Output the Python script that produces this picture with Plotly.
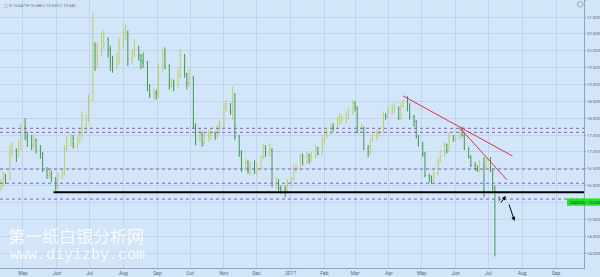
import pandas as pd
import plotly.graph_objects as go

# ---------------- data (XAGUSD, one bar per two business days) ----------------
start_date = "2016-04-11"
first_open = 15.95
last_open = 15.647

close_px = [
    16.05, 16.25, 16.20, 16.95, 17.05, 16.90, 17.10, 17.75,                     # Apr 2016
    17.45, 17.40, 17.20, 17.35, 17.05, 16.95, 16.45, 16.30, 16.35, 16.20, 16.00,  # May
    16.30, 16.35, 17.10, 17.30, 17.40, 17.25, 17.30, 17.55, 17.80, 17.95, 18.55,  # Jun
    20.15, 19.85, 19.95, 20.30, 20.35, 20.05, 19.65, 19.60, 19.70, 20.15,         # Jul
    20.45, 20.55, 19.75, 19.95, 20.10, 19.85, 19.70, 19.65, 18.95, 18.70, 18.75, 18.70,  # Aug
    19.45, 19.90, 19.55, 19.00, 19.05, 18.95, 19.25, 19.85, 19.30, 19.05, 19.20,  # Sep
    17.75, 17.40, 17.55, 17.25, 17.40, 17.50, 17.55, 17.45, 17.70, 17.75,         # Oct
    18.30, 18.35, 18.20, 18.50, 17.45, 16.95, 16.55, 16.70, 16.45, 16.55, 16.45,  # Nov
    16.50, 16.85, 17.10, 16.95, 17.05, 16.05, 16.10, 15.95, 15.90, 15.85, 16.10,  # Dec
    16.20, 16.45, 16.50, 16.85, 16.70, 16.90, 16.75, 16.85, 17.10, 16.95, 17.30,  # Jan 2017
    17.55, 17.55, 17.75, 17.70, 17.95, 18.00, 18.00, 18.05, 18.15, 18.45,         # Feb
    18.30, 17.65, 17.70, 17.10, 17.00, 17.35, 17.40, 17.55, 17.60, 18.10, 18.05, 18.25,  # Mar
    18.30, 18.30, 18.00, 18.35, 18.50, 18.40, 18.05, 17.90, 17.45, 17.25,         # Apr
    16.95, 16.30, 16.25, 16.15, 16.35, 16.75, 16.90, 17.20, 17.05, 17.45, 17.35,  # May
    17.40, 17.65, 17.50, 17.10, 16.85, 16.60, 16.50, 16.45, 16.65, 16.55, 16.75,  # Jun
    16.45, 15.95, 15.40, 15.545,                                                   # Jul
]
high_px = [
    16.20, 16.40, 16.35, 17.20, 17.30, 17.10, 17.35, 17.85,
    18.00, 17.60, 17.50, 17.55, 17.40, 17.20, 17.00, 16.55, 16.50, 16.45, 16.25,
    16.40, 16.50, 17.20, 17.45, 17.55, 17.50, 17.45, 17.65, 18.20, 18.10, 18.70,
    21.12, 20.25, 20.25, 20.55, 20.60, 20.40, 20.15, 19.85, 19.95, 20.40,
    20.65, 20.80, 20.60, 20.05, 20.35, 20.15, 19.90, 19.95, 19.70, 19.00, 18.90, 18.85,
    19.60, 20.05, 20.10, 19.60, 19.20, 19.15, 19.45, 20.05, 19.90, 19.35, 19.45,
    19.25, 17.85, 17.70, 17.60, 17.60, 17.65, 17.70, 17.60, 17.80, 17.95,
    18.45, 18.55, 18.45, 18.95, 18.75, 17.50, 17.05, 16.80, 16.75, 16.70, 16.75,
    16.70, 16.90, 17.25, 17.20, 17.25, 17.10, 16.25, 16.20, 16.00, 16.00, 16.20,
    16.25, 16.60, 16.65, 16.95, 16.95, 17.00, 16.95, 17.00, 17.20, 17.15, 17.45,
    17.65, 17.70, 17.85, 17.85, 18.05, 18.15, 18.10, 18.20, 18.30, 18.55,
    18.50, 18.35, 17.85, 17.75, 17.20, 17.40, 17.55, 17.65, 17.70, 18.20, 18.15, 18.30,
    18.40, 18.45, 18.35, 18.45, 18.55, 18.65, 18.45, 18.10, 17.95, 17.50,
    17.30, 17.00, 16.35, 16.30, 16.45, 16.80, 17.05, 17.30, 17.25, 17.55, 17.50,
    17.50, 17.70, 17.75, 17.55, 17.15, 16.90, 16.70, 16.60, 16.75, 16.85, 16.85,
    16.85, 16.50, 16.00, 15.686,
]
low_px = [
    15.85, 15.95, 16.05, 16.15, 16.85, 16.70, 16.85, 17.05,
    17.35, 17.15, 17.05, 17.10, 16.95, 16.80, 16.40, 16.20, 16.20, 16.10, 15.85,
    15.90, 16.20, 16.30, 17.00, 17.15, 17.10, 17.10, 17.25, 17.40, 17.55, 17.90,
    18.50, 19.40, 19.50, 19.85, 20.05, 19.80, 19.40, 19.35, 19.45, 19.60,
    20.10, 20.30, 19.55, 19.60, 19.80, 19.70, 19.45, 19.50, 18.80, 18.60, 18.55, 18.55,
    18.60, 19.35, 19.45, 18.85, 18.90, 18.80, 18.90, 19.20, 19.20, 18.85, 18.95,
    17.70, 17.20, 17.30, 17.15, 17.20, 17.30, 17.35, 17.35, 17.40, 17.55,
    17.70, 18.20, 18.10, 17.95, 17.35, 16.85, 16.40, 16.45, 16.35, 16.30, 16.35,
    16.30, 16.45, 16.80, 16.85, 16.85, 15.95, 15.90, 15.80, 15.75, 15.65, 15.80,
    15.95, 16.15, 16.40, 16.45, 16.60, 16.65, 16.65, 16.70, 16.80, 16.90, 16.90,
    17.25, 17.40, 17.50, 17.60, 17.65, 17.80, 17.85, 17.85, 17.95, 18.10,
    18.20, 17.55, 17.60, 17.05, 16.85, 16.90, 17.30, 17.35, 17.45, 17.55, 17.95, 18.00,
    18.10, 18.15, 17.95, 17.95, 18.30, 18.20, 17.95, 17.75, 17.40, 17.15,
    16.85, 16.25, 16.10, 16.05, 16.10, 16.30, 16.70, 16.85, 16.95, 17.00, 17.30,
    17.30, 17.35, 17.45, 17.05, 16.80, 16.55, 16.45, 16.40, 16.40, 15.65, 16.50,
    16.40, 15.85, 13.90, 15.533,
]

# horizontal levels drawn on the chart
dotted_levels = [17.70, 17.58, 16.49, 16.07, 15.60]
support_level = 15.80
support_start = "2016-05-29"
# trend lines (date, price) pairs
trend1 = [("2017-04-14", 18.66), ("2017-07-23", 16.88)]
trend2 = [("2017-06-05", 17.71), ("2017-07-18", 16.17)]

month_ticks = ["2016-05-01", "2016-06-01", "2016-07-01", "2016-08-01", "2016-09-01",
               "2016-10-01", "2016-11-01", "2016-12-01", "2017-01-01", "2017-02-01",
               "2017-03-01", "2017-04-01", "2017-05-01", "2017-06-01", "2017-07-01",
               "2017-08-01", "2017-09-01"]
month_labels = ["May", "Jun", "Jul", "Aug", "Sep", "Oct", "Nov", "Dec", "2017", "Feb",
                "Mar", "Apr", "May", "Jun", "Jul", "Aug", "Sep"]
price_ticks = [14.0, 14.5, 15.0, 15.5, 16.0, 16.5, 17.0, 17.5, 18.0, 18.5, 19.0,
               19.5, 20.0, 20.5, 21.0, 21.5]
hidden_tick = 15.5  # covered by the price label in the reference

# ---------------- build ----------------
dates = pd.bdate_range(start=start_date, periods=len(close_px), freq="2B")
open_px = [first_open] + close_px[:-1]
open_px[-1] = last_open
high_px = [max(h, o, c) for h, o, c in zip(high_px, open_px, close_px)]
low_px = [min(l, o, c) for l, o, c in zip(low_px, open_px, close_px)]

BG = "#d3e5f9"
GRID = "#bfd4ed"
AX = "#8fa3bb"

fig = go.Figure()
fig.add_trace(go.Ohlc(
    x=dates, open=open_px, high=high_px, low=low_px, close=close_px,
    increasing=dict(line=dict(color="#bccf62", width=1)),
    decreasing=dict(line=dict(color="#3f9a4b", width=1)),
    tickwidth=0.3, showlegend=False, hoverinfo="skip",
))

shapes = []
for lv in dotted_levels:
    shapes.append(dict(type="line", xref="paper", yref="y", x0=0, x1=1, y0=lv, y1=lv,
                       line=dict(color="#8d5cc4", width=1, dash="dot"), layer="above"))
shapes.append(dict(type="line", xref="x", yref="y", x0=support_start, x1="2017-09-30",
                   y0=support_level, y1=support_level,
                   line=dict(color="#000000", width=2), layer="above"))
for tl in (trend1, trend2):
    shapes.append(dict(type="line", xref="x", yref="y", x0=tl[0][0], y0=tl[0][1],
                       x1=tl[1][0], y1=tl[1][1],
                       line=dict(color="#e0304e", width=1), layer="above"))
# price label box on the right
shapes.append(dict(type="rect", xref="paper", yref="y", x0=567 / 584, x1=1.04,
                   y0=15.40, y1=15.615, fillcolor="#22e02a", line=dict(width=0),
                   layer="above"))
# small icon top right
shapes.append(dict(type="circle", xref="paper", yref="paper",
                   x0=577.5 / 584, x1=583 / 584, y0=1 - 7 / 268, y1=1 - 1.5 / 268,
                   line=dict(color="#9aa7b5", width=1)))

annotations = [
    dict(xref="paper", yref="y", x=568 / 584, y=15.51, xanchor="left", yanchor="middle",
         text="XAGUSD   15.545", showarrow=False,
         font=dict(size=4, color="#0b5a10", family="Roboto")),
    dict(xref="paper", yref="paper", x=2 / 584, y=1 - 5 / 268, xanchor="left",
         yanchor="middle", text="▢ O 15.647 H 15.686 L 15.533 C 15.545", showarrow=False,
         font=dict(size=4, color="#6b6f75", family="Roboto")),
    dict(xref="paper", yref="paper", x=6 / 584, y=1 - 235 / 268, xanchor="left",
         yanchor="middle", text="第一纸白银分析网", showarrow=False,
         font=dict(size=17, color="rgba(255,255,255,0.85)", family="Noto Sans CJK SC")),
    dict(xref="paper", yref="paper", x=8 / 584, y=1 - 255 / 268, xanchor="left",
         yanchor="middle", text="www.diyizby.com", showarrow=False,
         font=dict(size=15, color="rgba(255,255,255,0.85)", family="Liberation Mono")),
    # arrows
    dict(xref="x", yref="y", x="2017-07-17", y=15.69, ax=-6, ay=8, showarrow=True,
         arrowhead=2, arrowsize=0.8, arrowwidth=1, arrowcolor="#000", text=""),
    dict(xref="x", yref="y", x="2017-07-25", y=14.95, ax=-6, ay=-18, showarrow=True,
         arrowhead=2, arrowsize=0.8, arrowwidth=1, arrowcolor="#000", text=""),
]

fig.update_layout(
    width=600, height=277,
    margin=dict(l=0, r=16, t=0, b=9),
    paper_bgcolor=BG, plot_bgcolor=BG,
    shapes=shapes, annotations=annotations,
    showlegend=False,
    xaxis=dict(
        type="date", range=["2016-04-10", "2017-09-26 14:00"],
        rangeslider=dict(visible=False),
        tickvals=month_ticks, ticktext=month_labels,
        tickfont=dict(size=5, color="#5d6a7a", family="Roboto"),
        showgrid=True, gridcolor=GRID, gridwidth=1,
        showline=True, linecolor=AX, linewidth=1, ticks="", zeroline=False,
        automargin=False,
    ),
    yaxis=dict(
        side="right", range=[13.555, 21.507],
        tickvals=price_ticks,
        ticktext=["" if v == hidden_tick else f"{v:.3f}" for v in price_ticks],
        tickfont=dict(size=4.3, color="#5d6a7a", family="Roboto"),
        showgrid=True, gridcolor=GRID, gridwidth=1,
        showline=True, linecolor=AX, linewidth=1,
        ticks="outside", ticklen=1, tickcolor=AX, zeroline=False, automargin=False,
    ),
)

fig.write_html("out.html")
